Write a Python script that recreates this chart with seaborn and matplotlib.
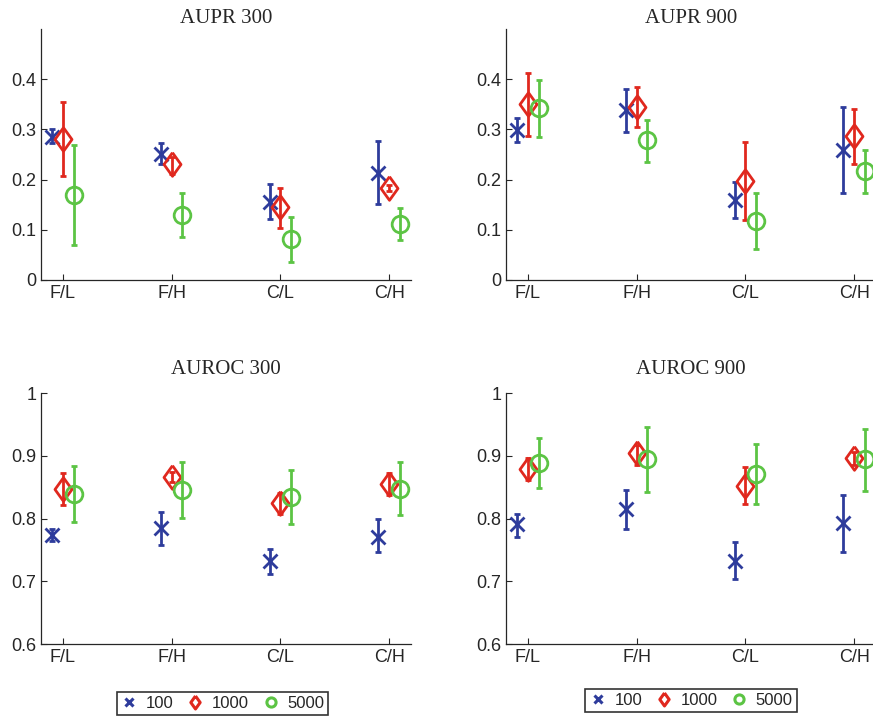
import numpy as np
import matplotlib
matplotlib.use("Agg")
import matplotlib.pyplot as plt
from matplotlib.lines import Line2D
import seaborn as sns

# -----------------------------------------------------
# Data
# -----------------------------------------------------
categories = ["F/L", "F/H", "C/L", "C/H"]
series = ["100", "1000", "5000"]

# AUPR 300: mean, lower, upper per series
aupr300_mean = {"100": [0.285, 0.252, 0.156, 0.214],
                "1000": [0.280, 0.232, 0.145, 0.184],
                "5000": [0.169, 0.129, 0.081, 0.111]}
aupr300_low = {"100": [0.273, 0.232, 0.121, 0.151],
               "1000": [0.207, 0.212, 0.104, 0.178],
               "5000": [0.070, 0.086, 0.036, 0.080]}
aupr300_high = {"100": [0.300, 0.272, 0.192, 0.277],
                "1000": [0.354, 0.245, 0.184, 0.190],
                "5000": [0.269, 0.173, 0.125, 0.143]}

# AUPR 900
aupr900_mean = {"100": [0.299, 0.338, 0.160, 0.258],
                "1000": [0.351, 0.345, 0.198, 0.286],
                "5000": [0.343, 0.278, 0.118, 0.218]}
aupr900_low = {"100": [0.275, 0.295, 0.124, 0.173],
               "1000": [0.287, 0.304, 0.120, 0.232],
               "5000": [0.285, 0.236, 0.062, 0.174]}
aupr900_high = {"100": [0.323, 0.381, 0.196, 0.344],
                "1000": [0.413, 0.385, 0.275, 0.341],
                "5000": [0.399, 0.319, 0.174, 0.259]}

# AUROC 300
auroc300_mean = {"100": [0.774, 0.785, 0.732, 0.771],
                 "1000": [0.847, 0.866, 0.825, 0.855],
                 "5000": [0.839, 0.845, 0.835, 0.847]}
auroc300_low = {"100": [0.764, 0.758, 0.712, 0.746],
                "1000": [0.822, 0.858, 0.808, 0.837],
                "5000": [0.795, 0.801, 0.792, 0.805]}
auroc300_high = {"100": [0.783, 0.811, 0.752, 0.799],
                 "1000": [0.872, 0.874, 0.840, 0.872],
                 "5000": [0.883, 0.890, 0.877, 0.890]}

# AUROC 900
auroc900_mean = {"100": [0.791, 0.815, 0.733, 0.793],
                 "1000": [0.879, 0.904, 0.852, 0.897],
                 "5000": [0.888, 0.895, 0.871, 0.895]}
auroc900_low = {"100": [0.771, 0.783, 0.704, 0.747],
                "1000": [0.861, 0.885, 0.823, 0.885],
                "5000": [0.848, 0.842, 0.823, 0.844]}
auroc900_high = {"100": [0.808, 0.846, 0.762, 0.838],
                 "1000": [0.897, 0.917, 0.882, 0.906],
                 "5000": [0.928, 0.946, 0.919, 0.943]}

# -----------------------------------------------------
# Style
# -----------------------------------------------------
sns.set_style("ticks")
plt.rcParams["font.family"] = ["Liberation Sans", "DejaVu Sans"]

palette = dict(zip(series, ["#2e3c9c", "#e0281e", "#5cc444"]))
diamond = [(0, 1), (0.72, 0), (0, -1), (-0.72, 0), (0, 1)]
markers = {"100": "x", "1000": diamond, "5000": "o"}
msizes = {"100": 10, "1000": 17, "5000": 12}
offsets = {"100": -0.1, "1000": 0.0, "5000": 0.1}

fig = plt.figure(figsize=(8.73, 7.17), dpi=100)

panels = [
    ("AUPR 300", aupr300_mean, aupr300_low, aupr300_high, (0.047, 0.6095), (0, 0.5), [0, 0.1, 0.2, 0.3, 0.4], 4),
    ("AUPR 900", aupr900_mean, aupr900_low, aupr900_high, (0.5796, 0.6095), (0, 0.5), [0, 0.1, 0.2, 0.3, 0.4], 4),
    ("AUROC 300", auroc300_mean, auroc300_low, auroc300_high, (0.047, 0.1018), (0.6, 1.0), [0.6, 0.7, 0.8, 0.9, 1.0], 14),
    ("AUROC 900", auroc900_mean, auroc900_low, auroc900_high, (0.5796, 0.1018), (0.6, 1.0), [0.6, 0.7, 0.8, 0.9, 1.0], 14),
]

x = np.arange(1, len(categories) + 1)

for title, mean, low, high, (left, bottom), ylim, yticks, tpad in panels:
    ax = fig.add_axes([left, bottom, 0.4238, 0.350])
    for s in series:
        m = np.array(mean[s])
        err = np.vstack([m - np.array(low[s]), np.array(high[s]) - m])
        ax.errorbar(x + offsets[s], m, yerr=err, fmt="none", ecolor=palette[s],
                    elinewidth=2, capsize=2.5, capthick=2)
        ax.plot(x + offsets[s], m, linestyle="none", marker=markers[s],
                markersize=msizes[s], markerfacecolor="none",
                markeredgecolor=palette[s], markeredgewidth=2)
    ax.set_xlim(0.8, 4.2)
    ax.set_ylim(*ylim)
    ax.set_xticks(x)
    ax.set_xticklabels(categories)
    ax.set_yticks(yticks)
    ax.yaxis.set_major_formatter(matplotlib.ticker.FormatStrFormatter("%g"))
    ax.tick_params(direction="in", length=4, labelsize=13, width=0.8)
    ax.set_title(title, fontsize=15, family="Liberation Serif", pad=tpad)
    sns.despine(ax=ax)
    for sp in ax.spines.values():
        sp.set_linewidth(0.9)

# Legends (one under each column)
handles = [Line2D([], [], linestyle="none", marker=markers[s], markersize=msizes[s] * 0.55,
                  markerfacecolor="none", markeredgecolor=palette[s], markeredgewidth=2.2)
           for s in series]
for cx, cy in [(0.2549, 0.0188), (0.7915, 0.0230)]:
    leg = fig.legend(handles, series, loc="center", bbox_to_anchor=(cx, cy), ncol=3,
                     fontsize=12, frameon=True, fancybox=False, handlelength=1.0,
                     handletextpad=0.5, columnspacing=0.8, borderpad=0.25)
    leg.get_frame().set_edgecolor("black")
    leg.get_frame().set_linewidth(1.2)

fig.savefig("out.png", dpi=100)
